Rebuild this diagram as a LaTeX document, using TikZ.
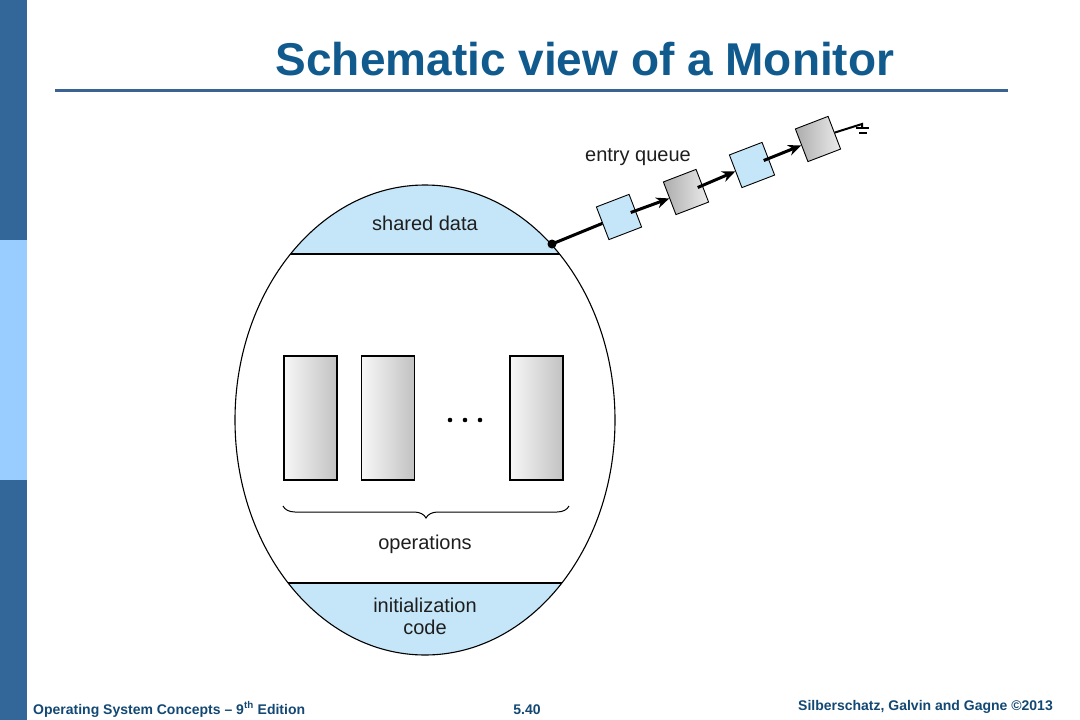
\documentclass[tikz,border=0pt]{standalone}
\usepackage{fontspec}
\setmainfont{Liberation Sans}
\usepackage{tikz}
\usetikzlibrary{arrows.meta,calc,decorations.pathreplacing}

\definecolor{bardark}{RGB}{51,102,153}
\definecolor{barlight}{RGB}{153,204,255}
\definecolor{titleblue}{RGB}{16,90,142}
\definecolor{footblue}{RGB}{18,72,115}
\definecolor{rulecol}{RGB}{58,98,146}
\definecolor{areablue}{RGB}{197,230,248}
\definecolor{inktext}{RGB}{30,30,30}

\begin{document}
\begin{tikzpicture}[x=1pt, y=-1pt, >=Stealth,
  label/.style={font=\fontsize{20}{22}\selectfont, text=inktext, anchor=base},
  foot/.style={font=\fontsize{14}{16}\selectfont\bfseries, text=footblue, anchor=base, inner sep=0pt},
  opbox/.style={draw, line width=1.1pt, minimum width=53pt, minimum height=124pt, inner sep=0pt,
    left color=gray!6, right color=gray!48},
  qbox/.style={draw, line width=0.9pt, minimum size=35pt, inner sep=0pt, rotate=21},
  qlink/.style={line width=3pt, -{Stealth[length=13pt,width=11pt]}}]
  \useasboundingbox (0,0) rectangle (1080,720);

  % side bar
  \fill[bardark] (0,0) rectangle (27,240);
  \fill[barlight] (0,240) rectangle (27,480);
  \fill[bardark] (0,480) rectangle (27,720);

  % title
  \node[font=\fontsize{46}{50}\selectfont\bfseries, text=titleblue, anchor=base] (title) at (585,75) {Schematic view of a Monitor};
  \draw[rulecol, line width=3pt] (55,90) -- (1008,90);

  % monitor
  \begin{scope}
    \clip (425,420) ellipse [x radius=190pt, y radius=235pt];
    \fill[areablue] (200,150) rectangle (650,254);
    \fill[areablue] (200,583) rectangle (650,700);
    \draw[line width=1.2pt] (200,254) -- (650,254);
    \draw[line width=1.2pt] (200,583) -- (650,583);
  \end{scope}
  \draw[line width=1.1pt] (425,420) ellipse [x radius=190pt, y radius=235pt];

  \node[label] (shared) at (425,230) {shared data};
  \node[label] (ops) at (425,549) {operations};
  \node[label] (init) at (425,612) {initialization};
  \node[label] (code) at (425,634) {code};

  \node[opbox] (op1) at (310.5,418) {};
  \node[opbox] (op2) at (388,418) {};
  \node[opbox] (op3) at (536.5,418) {};
  \foreach \x in {450,465,480}
    \fill (\x,420) circle (2.3pt);
  \draw[line width=1pt, decorate, decoration={brace, amplitude=12pt, mirror}] (283,506) -- (569,506);

  % entry queue
  \coordinate (entry) at (552,244);
  \node[label] (queue) at (638,161) {entry queue};
  \node[qbox, fill=areablue] (q1) at (619,217) {};
  \node[qbox, left color=gray!65, right color=gray!15] (q2) at (686,192) {};
  \node[qbox, fill=areablue] (q3) at (752,165) {};
  \node[qbox, left color=gray!65, right color=gray!15] (q4) at (818,139) {};
  \coordinate (gnd) at (862,124);

  \fill (entry) circle (4.5pt);
  \draw[line width=3pt] (entry) -- (q1.west);
  \draw[qlink] ($(q1.center)!0.7!(q1.east)$) -- (q2.west);
  \draw[qlink] ($(q2.center)!0.7!(q2.east)$) -- (q3.west);
  \draw[qlink] ($(q3.center)!0.7!(q3.east)$) -- (q4.west);
  \draw[line width=2pt] (q4.east) -- (gnd) -- ++(0,4);
  \draw[line width=1.6pt] ($(gnd)+(-6,4)$) -- ++(13,0);
  \draw[line width=1.6pt] ($(gnd)+(-3,9)$) -- ++(8,0);

  % footer
  \node[foot, anchor=base west] (edition) at (33,714) {Operating System Concepts -- 9\textsuperscript{th} Edition};
  \node[foot] (page) at (527,714) {5.40};
  \node[foot, anchor=base east] (authors) at (1053,710) {Silberschatz, Galvin and Gagne ©2013};
\end{tikzpicture}
\end{document}
